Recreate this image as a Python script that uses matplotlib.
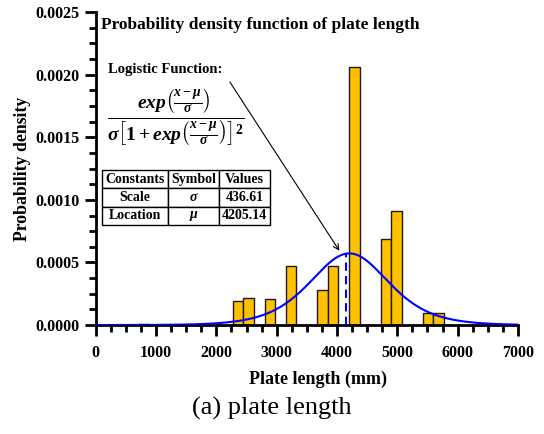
import numpy as np
import matplotlib
matplotlib.use("Agg")
import matplotlib.pyplot as plt
from matplotlib.ticker import MultipleLocator

plt.rcParams['font.family'] = ['Liberation Serif', 'DejaVu Serif']
plt.rcParams['mathtext.fontset'] = 'custom'
plt.rcParams['mathtext.it'] = 'Liberation Serif:italic:bold'
plt.rcParams['mathtext.rm'] = 'Liberation Serif:bold'
plt.rcParams['mathtext.bf'] = 'Liberation Serif:bold'

# histogram data
bin_left = [700, 2275, 2450, 2800, 3150, 3675, 3850, 4200, 4725, 4900, 5425, 5600]
bin_width = 175
density = [0.00001, 0.000194, 0.000216, 0.00021, 0.000468, 0.00028, 0.000471,
           0.00206, 0.000687, 0.00091, 0.0001, 0.000096]

# logistic fit parameters
scale_sigma = 436.61
loc_mu = 4205.14
mean_line_x = 4150

fig = plt.figure(figsize=(5.44, 4.34), dpi=100)
ax = fig.add_axes([0.176, 0.251, 0.776, 0.721])

ax.bar(bin_left, density, width=bin_width, align='edge', color='#FFC000',
       edgecolor='#1a1a1a', linewidth=1.0, zorder=2)

x = np.linspace(0, 7000, 1000)
z = np.exp((x - loc_mu) / scale_sigma)
pdf = z / (scale_sigma * (1 + z) ** 2)
ax.plot(x, pdf, color='#0000FF', linewidth=1.5, zorder=3)

zm = np.exp((mean_line_x - loc_mu) / scale_sigma)
pm = zm / (scale_sigma * (1 + zm) ** 2)
ax.plot([mean_line_x, mean_line_x], [0, pm], color='#0000FF', linewidth=1.5,
        linestyle=(0, (4, 2.5)), zorder=3)

ax.set_xlim(0, 7000)
ax.set_ylim(0, 0.0025)
ax.xaxis.set_major_locator(MultipleLocator(1000))
ax.xaxis.set_minor_locator(MultipleLocator(250))
ax.yaxis.set_major_locator(MultipleLocator(0.0005))
ax.yaxis.set_minor_locator(MultipleLocator(0.000125))
ax.yaxis.set_major_formatter(matplotlib.ticker.FuncFormatter(lambda v, p: f"{v:.4f}"))

for s in ['top', 'right']:
    ax.spines[s].set_visible(False)
for s in ['left', 'bottom']:
    ax.spines[s].set_linewidth(2.0)
ax.tick_params(which='major', direction='out', length=8, width=2.0,
               labelsize=11.5)
ax.tick_params(axis='x', which='major', pad=6)
ax.tick_params(which='minor', direction='out', length=5, width=2.0)
for lab in ax.get_xticklabels() + ax.get_yticklabels():
    lab.set_fontweight('bold')

ax.set_xlabel('Plate length (mm)', fontsize=13, fontweight='bold', labelpad=7)
ax.xaxis.label.set_x(0.527)
ax.set_ylabel('Probability density', fontsize=12.8, fontweight='bold', labelpad=3)

ax.text(0.012, 0.985, 'Probability density function of plate length',
        transform=ax.transAxes, fontsize=12.5, fontweight='bold', va='top', ha='left')
ax.text(0.029, 0.816, 'Logistic Function:', transform=ax.transAxes,
        fontsize=10.5, fontweight='bold', va='center', ha='left')

formula = (r'$\frac{exp\left(\frac{x-\mu}{\sigma}\right)}'
           r'{\sigma\left[1+exp\left(\frac{x-\mu}{\sigma}\right)\right]^2}$')
ax.text(0.19, 0.66, formula, transform=ax.transAxes, fontsize=20,
        va='center', ha='center')

ax.annotate('', xy=(4065, 0.000575), xytext=(2200, 0.00196),
            arrowprops=dict(arrowstyle='->', color='black', lw=0.8))

# table
col_labels = ['Constants', 'Symbol', 'Values']
row_names = ['Scale', 'Location']
row_symbols = [r'$\sigma$', r'$\mu$']
row_values = ['436.61', '4205.14']
cells = [[row_names[i], row_symbols[i], row_values[i]] for i in range(2)]
tbl = ax.table(cellText=[col_labels] + cells, cellLoc='center',
               colWidths=[67, 51, 51],
               bbox=[0.014, 0.32, 0.399, 0.176])
tbl.auto_set_font_size(False)
for (r, c), cell in tbl.get_celld().items():
    cell.set_linewidth(1.0)
    cell.set_facecolor('white')
    cell.get_text().set_fontsize(10)
    cell.get_text().set_fontweight('bold')

fig.text(0.5, 0.06, '(a) plate length', fontsize=19, ha='center', va='center')

fig.savefig('out.png', dpi=100)
